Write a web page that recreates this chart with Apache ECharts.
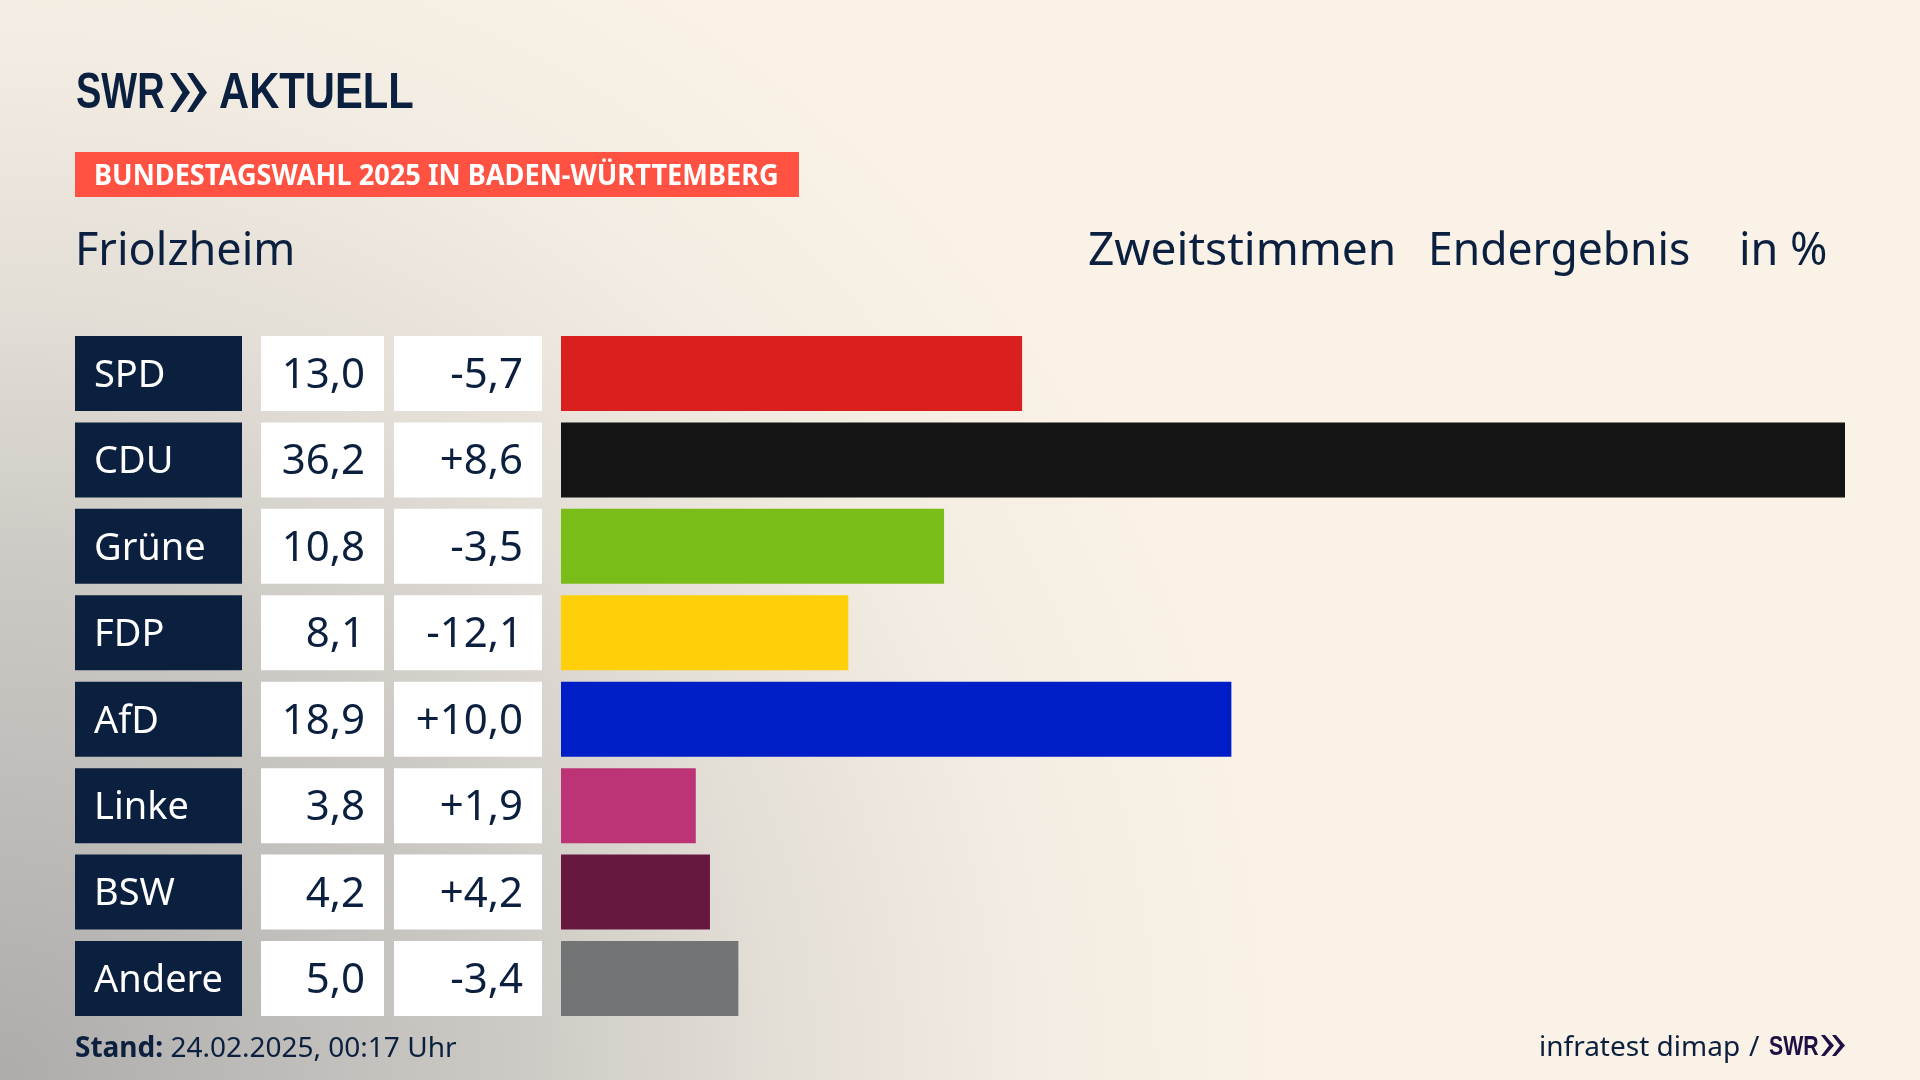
<!DOCTYPE html>
<html>
<head>
<meta charset="utf-8">
<title>Bundestagswahl 2025 Friolzheim</title>
<style>
  html, body { margin: 0; padding: 0; background: #faf2e7; }
  #chart { width: 1920px; height: 1080px; }
</style>
</head>
<body>
<div id="chart"></div>
<script src="https://cdn.jsdelivr.net/npm/echarts@6/dist/echarts.min.js"></script>
<script>
const parties = ['SPD', 'CDU', 'Grüne', 'FDP', 'AfD', 'Linke', 'BSW', 'Andere'];
const votes = [13.0, 36.2, 10.8, 8.1, 18.9, 3.8, 4.2, 5.0];
const changes = [-5.7, 8.6, -3.5, -12.1, 10.0, 1.9, 4.2, -3.4];
const partyColors = ['#d9201f', '#141414', '#7abd19', '#ffcf0a', '#001ec8', '#bc3475', '#67183f', '#737476'];

const NAVY = '#0b1f3f';
const FONT = '"Noto Sans"';
const LOGO_FONT = '"Liberation Sans"';
const TABLE_TOP = 330.3;
const TABLE_HEIGHT = 691.4;
const ROW_HEIGHT = 75;

const fmtVote = (v) => v.toFixed(1).replace('.', ',');
const fmtChange = (v) => (v > 0 ? '+' : '') + v.toFixed(1).replace('.', ',');

// the party name column and the two number columns are full-width bars in their own grids
const columns = [
  { left: 75, width: 167, color: NAVY, text: '#ffffff', size: 38, align: 'insideLeft', label: (i) => parties[i] },
  { left: 261, width: 123, color: '#ffffff', text: NAVY, size: 42, align: 'insideRight', label: (i) => fmtVote(votes[i]) },
  { left: 394, width: 148, color: '#ffffff', text: NAVY, size: 42, align: 'insideRight', label: (i) => fmtChange(changes[i]) },
];

const grids = [];
const xAxes = [];
const yAxes = [];
const series = [];

function addGrid(left, width, max) {
  const idx = grids.length;
  grids.push({ left: left, width: width, top: TABLE_TOP, height: TABLE_HEIGHT });
  xAxes.push({ type: 'value', gridIndex: idx, min: 0, max: max, show: false });
  yAxes.push({ type: 'category', gridIndex: idx, data: parties, inverse: true, show: false });
  return idx;
}

columns.forEach((col) => {
  const idx = addGrid(col.left, col.width, 1);
  series.push({
    type: 'bar',
    xAxisIndex: idx,
    yAxisIndex: idx,
    barWidth: ROW_HEIGHT,
    silent: true,
    animation: false,
    data: parties.map(() => 1),
    itemStyle: { color: col.color },
    label: {
      show: true,
      position: col.align,
      distance: 19,
      offset: [0, 2.5],
      color: col.text,
      fontFamily: FONT,
      fontSize: col.size,
      formatter: (p) => col.label(p.dataIndex),
    },
  });
});

const barGrid = addGrid(561, 1284, 36.2);
series.push({
  type: 'bar',
  xAxisIndex: barGrid,
  yAxisIndex: barGrid,
  barWidth: ROW_HEIGHT,
  animation: false,
  data: votes.map((v, i) => ({ value: v, itemStyle: { color: partyColors[i] } })),
});

function headText(x, y, text, font, scaleX, fill) {
  return {
    type: 'text',
    x: x,
    y: y,
    scaleX: scaleX || 1,
    style: {
      text: text,
      fill: fill || NAVY,
      font: font,
      textVerticalAlign: 'middle',
    },
  };
}

function chevrons(x, top, bottom, w, gap, color) {
  const mid = (top + bottom) / 2;
  return [0, 1].map((n) => {
    const x0 = x + n * gap;
    return {
      type: 'polygon',
      shape: { points: [[x0, top], [x0 + w * 0.3, top], [x0 + w, mid], [x0 + w * 0.3, bottom], [x0, bottom], [x0 + w * 0.62, mid]] },
      style: { fill: color },
    };
  });
}

const graphic = [
  { type: 'rect', shape: { x: 75, y: 152, width: 724, height: 45 }, style: { fill: '#ff5242' } },
  headText(94, 177, 'BUNDESTAGSWAHL 2025 IN BADEN-WÜRTTEMBERG', 'bold 28px ' + FONT, 0.971, '#ffffff'),
  headText(76, 94, 'SWR', 'bold 50px ' + LOGO_FONT, 0.76),
  headText(219, 94, 'AKTUELL', 'bold 50px ' + LOGO_FONT, 0.835),
  ...chevrons(170, 73, 112, 20, 17, NAVY),
  headText(75, 252, 'Friolzheim', '45px ' + FONT),
  headText(1088, 252, 'Zweitstimmen', '45px ' + FONT, 1.024),
  headText(1428, 252, 'Endergebnis', '45px ' + FONT, 0.987),
  headText(1739, 252, 'in %', '45px ' + FONT),
  {
    type: 'text',
    x: 75,
    y: 1049,
    style: {
      text: '{b|Stand:} 24.02.2025, 00:17 Uhr',
      fill: NAVY,
      font: '28px ' + FONT,
      textVerticalAlign: 'middle',
      rich: { b: { fontWeight: 'bold', fontSize: 28, fontFamily: FONT, fill: NAVY } },
    },
  },
  headText(1539, 1048, 'infratest dimap', '28px ' + FONT),
  headText(1749, 1048, '/', '28px ' + FONT),
  headText(1769, 1047, 'SWR', 'bold 28px ' + LOGO_FONT, 0.76, '#1f0f45'),
  ...chevrons(1821, 1035, 1056, 13, 11, '#1f0f45'),
];

const chart = echarts.init(document.getElementById('chart'));
chart.setOption({
  animation: false,
  backgroundColor: new echarts.graphic.RadialGradient(0, 1, 1.2, [
    { offset: 0, color: '#adacab' },
    { offset: 0.4, color: '#cdcac5' },
    { offset: 0.6, color: '#e3ded6' },
    { offset: 0.8, color: '#f3ece2' },
    { offset: 1, color: '#faf2e7' },
  ]),
  grid: grids,
  xAxis: xAxes,
  yAxis: yAxes,
  series: series,
  graphic: graphic,
});
</script>
</body>
</html>
